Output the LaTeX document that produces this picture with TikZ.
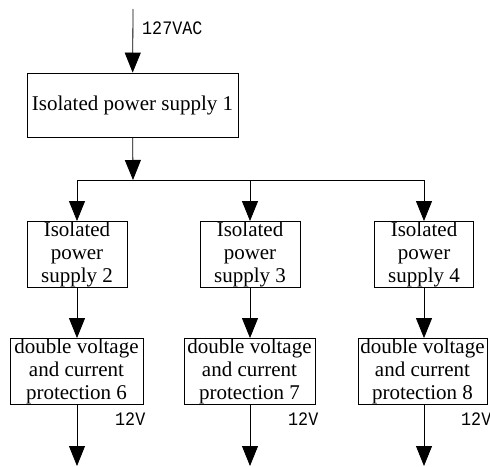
\documentclass[tikz,border=0pt]{standalone}
\usepackage{fontspec}
\setmainfont{Liberation Serif}
\newfontfamily\labelfont[FakeStretch=0.88]{Liberation Mono}
\usetikzlibrary{arrows.meta, positioning}

\begin{document}
\begin{tikzpicture}[
    x=1pt, y=-1pt,
    supplyblock/.style={rectangle, draw, line width=0.8pt, inner sep=0.5pt, minimum height=64pt, align=center, font=\fontsize{21}{23}\selectfont},
    protectblock/.style={rectangle, draw, line width=0.8pt, inner sep=0.5pt, minimum height=63pt, align=center, font=\fontsize{21}{23}\selectfont},
    voltlabel/.style={anchor=west, inner sep=0pt, font=\labelfont\fontsize{19}{19}\selectfont},
    arrow/.style={-{Triangle[width=16pt, length=20pt]}, line width=0.8pt}
]
\useasboundingbox (0,0) rectangle (490,466);

% Input and first isolated supply
\coordinate (in) at (133,9);
\node[supplyblock, minimum width=211pt] (ps1) at (132.5,105) {Isolated power supply 1};
\draw[arrow] (in) -- (ps1);
\node[voltlabel] (vac) at (142,28.5) {127VAC};

% Second stage supplies
\node[supplyblock, minimum width=100pt] (ps2) at (77,254.5) {Isolated\\power\\supply 2};
\node[supplyblock, minimum width=100pt] (ps3) at (250,254.5) {Isolated\\power\\supply 3};
\node[supplyblock, minimum width=99pt] (ps4) at (424,254.5) {Isolated\\power\\supply 4};

% Distribution bus
\coordinate (bus) at (133,180);
\draw[arrow] (ps1) -- (bus);
\draw[line width=0.8pt] (ps2.north |- bus) -- (ps4.north |- bus);
\draw[arrow] (ps2.north |- bus) -- (ps2);
\draw[arrow] (ps3.north |- bus) -- (ps3);
\draw[arrow] (ps4.north |- bus) -- (ps4);

% Protection blocks
\node[protectblock, minimum width=133pt] (pr6) at (76.5,371.5) {double voltage\\and current\\protection 6};
\node[protectblock, minimum width=131pt] (pr7) at (249.5,371.5) {double voltage\\and current\\protection 7};
\node[protectblock, minimum width=129pt] (pr8) at (422.5,371.5) {double voltage\\and current\\protection 8};
\draw[arrow] (ps2) -- (ps2 |- pr6.north);
\draw[arrow] (ps3) -- (ps3 |- pr7.north);
\draw[arrow] (ps4) -- (ps4 |- pr8.north);

% Outputs
\coordinate (out6) at (77,466);
\coordinate (out7) at (250,466);
\coordinate (out8) at (424,466);
\draw[arrow] (out6 |- pr6.south) -- (out6);
\draw[arrow] (out7 |- pr7.south) -- (out7);
\draw[arrow] (out8 |- pr8.south) -- (out8);
\node[voltlabel] (v6) at (115,419) {12V};
\node[voltlabel] (v7) at (288,419) {12V};
\node[voltlabel] (v8) at (461,419) {12V};

\end{tikzpicture}
\end{document}
